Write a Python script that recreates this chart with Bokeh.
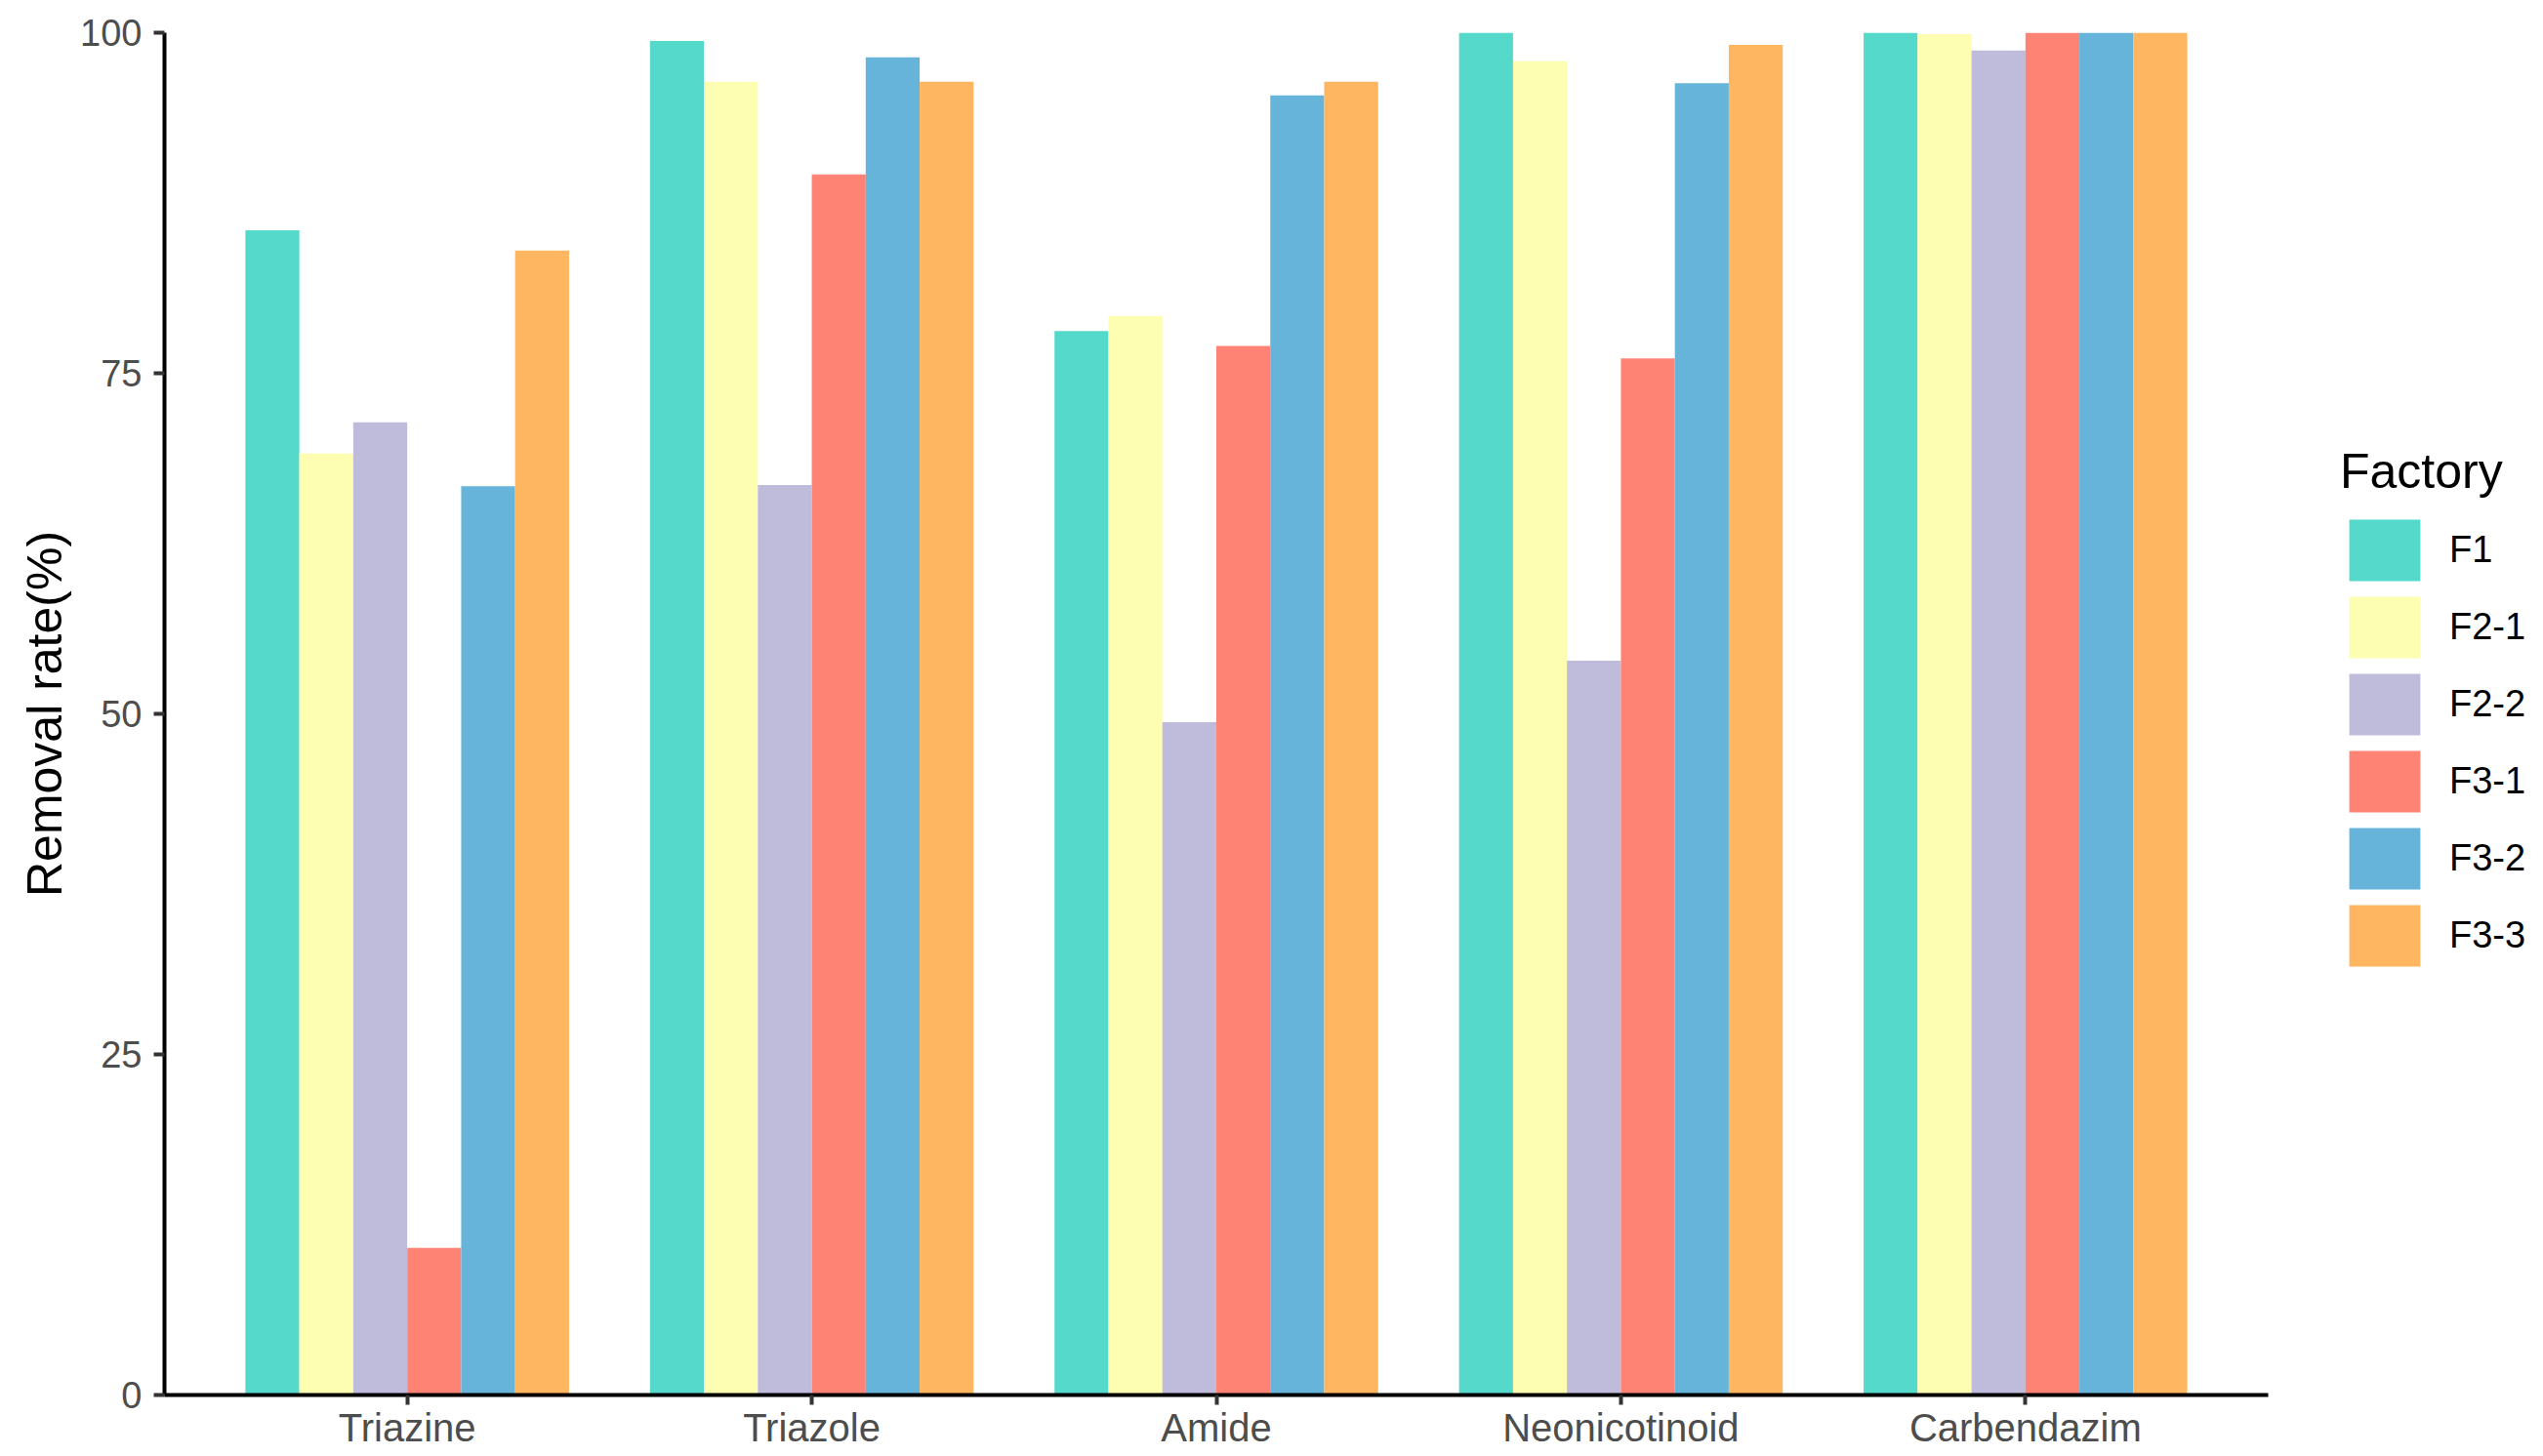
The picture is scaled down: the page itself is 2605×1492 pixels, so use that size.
from bokeh.plotting import figure
from bokeh.models import (Range1d, FixedTicker, Legend, LegendItem, ColumnDataSource)
from bokeh.embed import file_html
from bokeh.resources import INLINE

categories = ["Triazine", "Triazole", "Amide", "Neonicotinoid", "Carbendazim"]
factories = ["F1", "F2-1", "F2-2", "F3-1", "F3-2", "F3-3"]
F1 = [85.5, 99.4, 78.1, 100.0, 100.0]
F2_1 = [69.1, 96.4, 79.2, 97.9, 99.9]
F2_2 = [71.4, 66.8, 49.4, 53.9, 98.7]
F3_1 = [10.8, 89.6, 77.0, 76.1, 100.0]
F3_2 = [66.7, 98.2, 95.4, 96.3, 100.0]
F3_3 = [84.0, 96.4, 96.4, 99.1, 100.0]
series = [F1, F2_1, F2_2, F3_1, F3_2, F3_3]
colors = ["#55D9CA", "#FEFEB2", "#BEBBDB", "#FF8375", "#66B4D9", "#FEB661"]
y_ticks = [0, 25, 50, 75, 100]

FONT = "Liberation Sans"
group_width = 0.8
bar_w = group_width / len(factories)

W, H = 2605, 1492
LEFT, TOP, BOTTOM = 168, 33, 63
PANEL_RIGHT_PX = 2323           # where the ggplot panel ends
x_lo, x_hi = 0.4, len(categories) + 0.6
units_per_px = (x_hi - x_lo) / (PANEL_RIGHT_PX - LEFT)
x_end = x_lo + (W - LEFT) * units_per_px   # extend frame to hold the legend

p = figure(width=W, height=H, output_backend="svg", toolbar_location=None,
           x_range=Range1d(x_lo, x_end), y_range=Range1d(0, 100),
           min_border_left=LEFT, min_border_right=0, min_border_top=TOP,
           min_border_bottom=BOTTOM)

items = []
for j, (fac, vals, col) in enumerate(zip(factories, series, colors)):
    xs = [i + 1 + (j - (len(factories) - 1) / 2) * bar_w for i in range(len(categories))]
    src = ColumnDataSource(dict(x=xs, top=vals))
    r = p.vbar(x="x", top="top", bottom=0, width=bar_w, source=src,
               fill_color=col, line_color=None)
    items.append(LegendItem(label=fac, renderers=[r]))

p.grid.visible = False
p.outline_line_color = None
p.background_fill_color = "white"
p.border_fill_color = "white"

# x axis
xa = p.xaxis[0]
xa.bounds = (x_lo, x_hi)
xa.ticker = FixedTicker(ticks=list(range(1, len(categories) + 1)))
xa.major_label_overrides = {i + 1: c for i, c in enumerate(categories)}
xa.major_label_text_font = FONT
xa.major_label_text_font_size = "40px"
xa.major_label_text_color = "#4D4D4D"
xa.major_label_standoff = 1
xa.axis_line_color = "black"
xa.axis_line_width = 4
xa.major_tick_line_color = "#333333"
xa.major_tick_line_width = 4
xa.major_tick_out = 10
xa.major_tick_in = 0
xa.minor_tick_line_color = None

# y axis
ya = p.yaxis[0]
ya.ticker = FixedTicker(ticks=y_ticks)
ya.major_label_text_font = FONT
ya.major_label_text_font_size = "38px"
ya.major_label_text_color = "#4D4D4D"
ya.major_label_standoff = 12
ya.axis_line_color = "black"
ya.axis_line_width = 4
ya.major_tick_line_color = "#333333"
ya.major_tick_line_width = 4
ya.major_tick_out = 11
ya.major_tick_in = 0
ya.minor_tick_line_color = None
ya.axis_label = "Removal rate(%)"
ya.axis_label_text_font = FONT
ya.axis_label_text_font_size = "50px"
ya.axis_label_text_font_style = "normal"
ya.axis_label_text_color = "black"
ya.axis_label_standoff = 5

legend = Legend(items=items, location=(2229, 431), orientation="vertical")
legend.title = "Factory"
legend.title_text_font = FONT
legend.title_text_font_size = "50px"
legend.title_text_font_style = "normal"
legend.title_text_color = "black"
legend.title_standoff = 12
legend.label_text_font = FONT
legend.label_text_font_size = "38px"
legend.label_text_color = "black"
legend.glyph_width = 91
legend.glyph_height = 79
legend.label_height = 79
legend.label_standoff = 21
legend.spacing = 0
legend.padding = 0
legend.margin = 0
legend.border_line_color = None
legend.background_fill_alpha = 0
p.add_layout(legend, "center")

open("out.html", "w").write(file_html(p, INLINE))
